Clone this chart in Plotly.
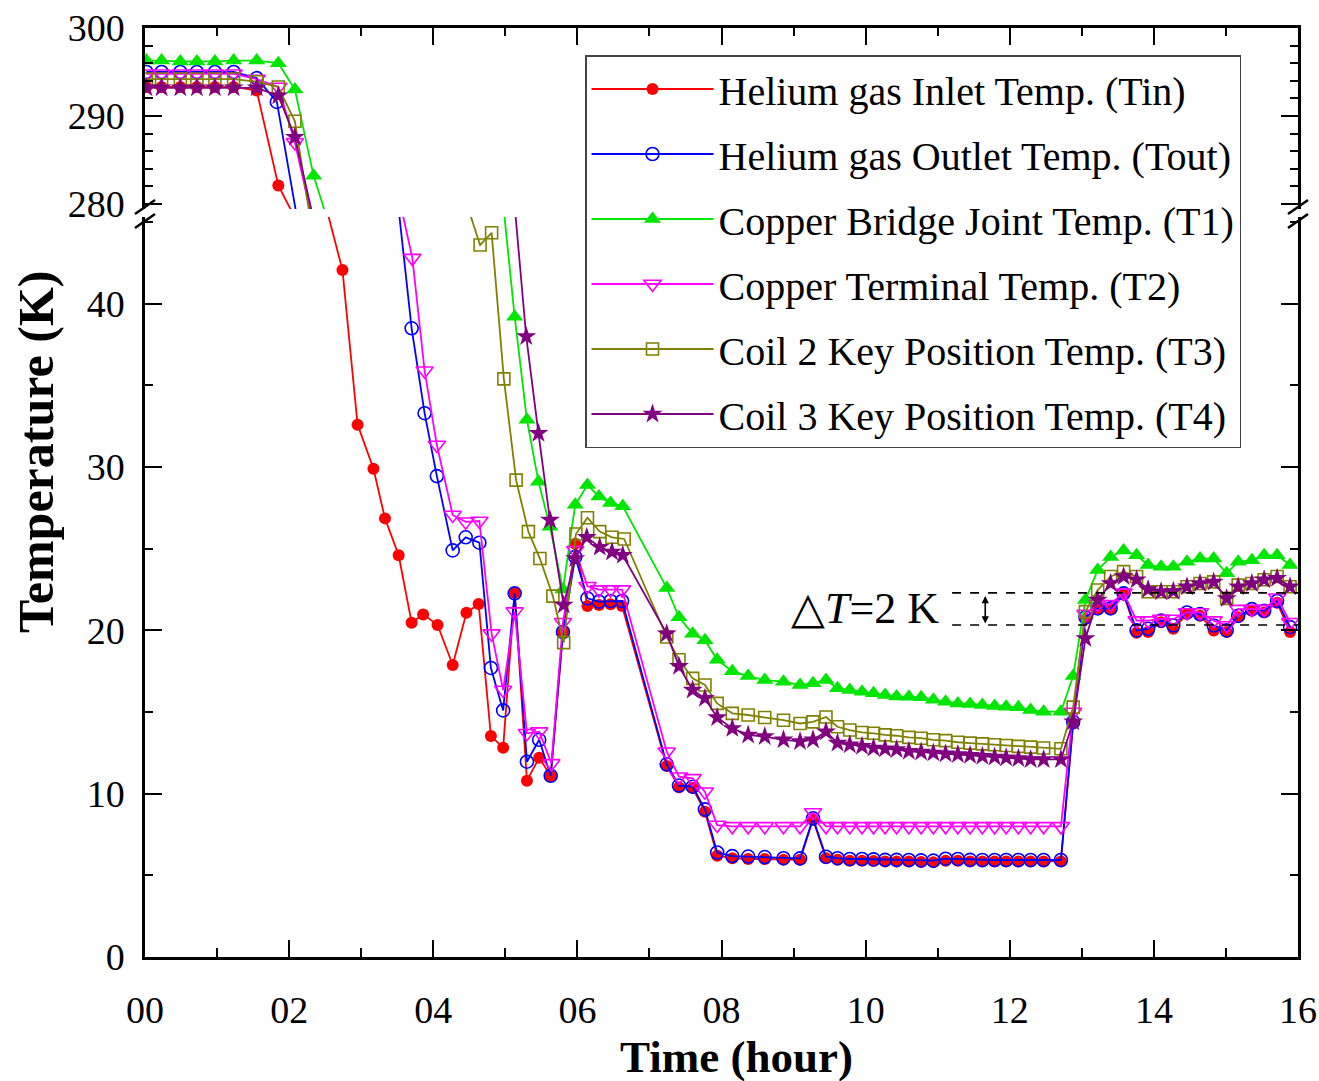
import plotly.graph_objects as go

# ---------------- data (hours, K) ----------------
time_top = [0.02, 0.23, 0.49, 0.72, 0.97, 1.23, 1.55]
time_late = [7.24, 7.41, 7.60, 7.77, 7.94, 8.15, 8.37, 8.60, 8.86, 9.09,
             9.27, 9.45, 9.61, 9.78, 9.95, 10.11, 10.27, 10.43, 10.60, 10.77,
             10.94, 11.11, 11.28, 11.45, 11.62, 11.79, 11.95, 12.12, 12.29, 12.47,
             12.71, 12.88, 13.05, 13.22, 13.40, 13.58, 13.76, 13.92, 14.10, 14.27,
             14.46, 14.64, 14.83, 15.01, 15.17, 15.36, 15.53, 15.71, 15.89]

# Helium gas inlet (Tin)
tin_top_x = [1.85, 2.14]
tin_top_y = [293.3, 293.3, 293.3, 293.3, 293.3, 293.3, 292.9, 282.1, 277.5]
tin_mid_x = [2.45, 2.74, 2.95, 3.17, 3.33, 3.52, 3.70, 3.86, 4.06, 4.27, 4.46, 4.63,
             4.80, 4.97, 5.13, 5.30, 5.47, 5.63, 5.80, 5.97, 6.14, 6.30, 6.46, 6.62]
tin_mid_y = [47, 42.07, 32.6, 29.9, 26.86, 24.6, 20.47, 20.98, 20.33, 17.88, 21.08, 21.62,
             13.53, 12.82, 22.3, 10.8, 12.2, 11.08, 19.9, 25.3, 21.5, 21.55, 21.6, 21.5]
tin_late_y = [11.7, 10.4, 10.35, 8.9, 6.2, 6.05, 6.0, 6.0, 5.95, 5.95,
              8.4, 6.05, 5.95, 5.9, 5.9, 5.88, 5.85, 5.85, 5.85, 5.82,
              5.8, 5.9, 5.9, 5.85, 5.85, 5.85, 5.85, 5.85, 5.85, 5.85,
              5.85, 14.3, 20.7, 21.3, 21.3, 22.2, 19.85, 19.9, 20.5, 20.1,
              21.0, 20.9, 20.0, 19.9, 20.8, 21.2, 21.1, 21.7, 19.9]

# Helium gas outlet (Tout)
tout_top_x = [1.83, 2.13]
tout_top_y = [295.0, 295.0, 295.0, 295.0, 295.0, 295.0, 294.3, 291.6, 277.5]
tout_mid_x = [3.49, 3.70, 3.88, 4.05, 4.27, 4.45, 4.64, 4.80, 4.97, 5.13,
              5.30, 5.47, 5.63, 5.80, 5.97, 6.14, 6.30, 6.46, 6.62]
tout_mid_y = [47, 38.5, 33.3, 29.45, 24.9, 25.7, 25.37, 17.7, 15.1, 22.27,
              11.96, 13.3, 11.1, 19.9, 24.5, 21.96, 21.76, 21.8, 21.8]
tout_late_y = [11.8, 10.5, 10.43, 9.04, 6.4, 6.18, 6.15, 6.12, 6.05, 6.04,
               8.49, 6.14, 6.05, 6.0, 6.0, 5.98, 5.95, 5.95, 5.94, 5.92,
               5.9, 6.02, 6.0, 5.95, 5.94, 5.94, 5.94, 5.94, 5.94, 5.94,
               5.94, 14.4, 20.8, 21.35, 21.35, 22.27, 20.0, 20.1, 20.6, 20.3,
               21.1, 21.0, 20.3, 20.0, 20.9, 21.3, 21.2, 21.8, 20.2]

# Copper bridge joint (T1)
t1_top_x = [1.85, 2.08, 2.34, 2.56]
t1_top_y = [296.3, 296.3, 296.2, 296.2, 296.2, 296.3, 296.3, 296.0, 293.0, 283.2, 277.5]
t1_mid_x = [4.95, 5.13, 5.30, 5.46, 5.62, 5.80, 5.97, 6.14, 6.30, 6.46, 6.63]
t1_mid_y = [47, 39.2, 32.9, 29.1, 26.35, 22.5, 27.7, 28.9, 28.2, 27.8, 27.6]
t1_late_y = [22.6, 20.8, 19.8, 19.4, 18.2, 17.5, 17.2, 16.96, 16.86, 16.66,
             16.76, 16.96, 16.45, 16.35, 16.25, 16.15, 16.05, 15.95, 15.94, 15.9,
             15.75, 15.63, 15.53, 15.5, 15.43, 15.37, 15.33, 15.3, 15.13, 15.02,
             15.02, 17.2, 21.86, 23.7, 24.5, 24.9, 24.6, 24.0, 23.9, 23.9,
             24.2, 24.4, 24.4, 23.5, 24.2, 24.3, 24.6, 24.6, 24.0]

# Copper terminal (T2)
t2_top_x = [1.85, 2.08, 2.34]
t2_top_y = [294.8, 294.8, 294.8, 294.8, 294.8, 294.8, 294.2, 293.3, 287.0, 277.5]
t2_mid_x = [3.50, 3.71, 3.88, 4.05, 4.27, 4.45, 4.64, 4.81, 4.97, 5.13,
            5.30, 5.47, 5.64, 5.80, 5.97, 6.14, 6.30, 6.46, 6.62]
t2_mid_y = [47, 42.8, 35.9, 31.35, 27.07, 26.65, 26.7, 19.8, 16.35, 21.15,
            13.7, 13.8, 11.86, 20.5, 24.9, 22.7, 22.5, 22.5, 22.5]
t2_late_y = [12.57, 11.04, 10.94, 10.12, 8.08, 8.0, 8.0, 8.0, 8.0, 8.0,
             8.85, 8.0, 8.0, 8.0, 8.0, 8.0, 8.0, 8.0, 8.0, 8.0,
             8.0, 8.0, 8.0, 8.0, 8.0, 8.0, 8.0, 8.0, 8.0, 8.0,
             8.0, 15.0, 21.0, 21.6, 21.6, 22.3, 20.6, 20.6, 20.7, 20.7,
             21.1, 21.1, 20.6, 20.3, 21.3, 21.3, 21.3, 22.0, 20.5]

# Coil 2 key position (T3)
t3_top_x = [1.85, 2.08, 2.31]
t3_top_y = [294.2, 294.2, 294.2, 294.2, 294.2, 294.2, 293.9, 293.3, 289.4, 277.5]
t3_mid_x = [4.40, 4.65, 4.81, 4.98, 5.15, 5.32, 5.48, 5.66, 5.81, 5.98, 6.14, 6.31, 6.48, 6.65]
t3_mid_y = [47, 43.6, 44.35, 35.4, 29.2, 26.05, 24.4, 22.1, 19.25, 25.9, 26.9, 26.05, 25.7, 25.6]
t3_late_y = [19.6, 18.2, 17.06, 16.66, 15.53, 14.92, 14.82, 14.67, 14.5, 14.3,
             14.4, 14.7, 14.1, 13.9, 13.75, 13.7, 13.6, 13.55, 13.45, 13.4,
             13.3, 13.25, 13.15, 13.1, 13.05, 13.0, 12.95, 12.9, 12.85, 12.8,
             12.75, 15.3, 21.15, 22.47, 23.3, 23.6, 23.3, 22.37, 22.37, 22.37,
             22.67, 22.87, 22.97, 21.96, 22.77, 22.87, 23.1, 23.3, 22.67]

# Coil 3 key position (T4)
t4_top_x = [1.85, 2.08, 2.36]
t4_top_y = [293.2, 293.2, 293.2, 293.2, 293.2, 293.2, 293.2, 292.3, 287.6, 277.5]
t4_mid_x = [5.11, 5.29, 5.46, 5.62, 5.81, 5.97, 6.13, 6.31, 6.48, 6.63]
t4_mid_y = [47, 38.0, 32.07, 26.76, 21.55, 24.4, 25.7, 25.1, 24.8, 24.6]
t4_late_y = [19.8, 17.8, 16.35, 15.84, 14.67, 14.0, 13.6, 13.5, 13.3, 13.2,
             13.3, 13.8, 13.1, 13.0, 12.9, 12.8, 12.75, 12.7, 12.6, 12.55,
             12.5, 12.45, 12.4, 12.35, 12.3, 12.25, 12.2, 12.15, 12.1, 12.1,
             12.1, 14.4, 19.5, 21.86, 22.88, 23.3, 23.1, 22.5, 22.37, 22.4,
             22.67, 22.87, 22.97, 21.96, 22.67, 22.87, 23.1, 23.2, 22.67]

x_tick_vals = [0, 2, 4, 6, 8, 10, 12, 14, 16]
x_tick_text = ["00", "02", "04", "06", "08", "10", "12", "14", "16"]
dT_upper, dT_lower, dT_x0 = 22.3, 20.33, 11.2

series = [
    ("Helium gas Inlet Temp. (Tin)", tin_top_x, tin_top_y, tin_mid_x, tin_mid_y, tin_late_y,
     "#ff0000", dict(symbol="circle", size=12, color="#ff0000")),
    ("Helium gas Outlet Temp. (Tout)", tout_top_x, tout_top_y, tout_mid_x, tout_mid_y, tout_late_y,
     "#0000ff", dict(symbol="circle-open", size=13, color="#0000ff", line=dict(width=1.6))),
    ("Copper Bridge Joint Temp. (T1)", t1_top_x, t1_top_y, t1_mid_x, t1_mid_y, t1_late_y,
     "#00e600", dict(symbol="triangle-up", size=15, color="#00e600")),
    ("Copper Terminal Temp. (T2)", t2_top_x, t2_top_y, t2_mid_x, t2_mid_y, t2_late_y,
     "#ff00ff", dict(symbol="triangle-down-open", size=15, color="#ff00ff", line=dict(width=1.6))),
    ("Coil 2 Key Position Temp. (T3)", t3_top_x, t3_top_y, t3_mid_x, t3_mid_y, t3_late_y,
     "#808000", dict(symbol="square-open", size=12, color="#808000", line=dict(width=1.6))),
    ("Coil 3 Key Position Temp. (T4)", t4_top_x, t4_top_y, t4_mid_x, t4_mid_y, t4_late_y,
     "#800080", dict(symbol="star", size=15, color="#800080")),
]

fig = go.Figure()
for i, (name, tx, ty, mx, my, ly, col, mk) in enumerate(series):
    xs = time_top + tx + mx + time_late
    ys = ty + my + ly
    for xa, ya, show in (("x", "y", True), ("x2", "y2", False)):
        fig.add_trace(go.Scatter(
            x=xs, y=ys, mode="lines+markers", name=name,
            legendgroup=f"g{i}", showlegend=show,
            line=dict(color=col, width=1.8), marker=mk,
            xaxis=xa, yaxis=ya))

W, H = 1319, 1081
L, R, T, B = 145, 21, 28, 124
PW, PH = W - L - R, H - T - B


def px(xp):
    return (xp - L) / PW


def py(yp):
    return (H - B - yp) / PH


top_lo, bot_hi = 209, 217  # pixel rows where upper/lower panels end
font_family = "Liberation Serif"
axis_common = dict(showline=True, linecolor="black", linewidth=2.5, ticks="inside",
                   tickcolor="black", tickwidth=2, showgrid=False, zeroline=False,
                   automargin=False,
                   tickfont=dict(family=font_family, size=38, color="black"))

fig.update_layout(
    template="none",
    width=W, height=H,
    margin=dict(l=L, r=R, t=T, b=B, autoexpand=False),
    paper_bgcolor="white", plot_bgcolor="white",
    xaxis=dict(range=[0, 16], tickvals=x_tick_vals, ticktext=x_tick_text, ticklen=17,
               anchor="y", ticklabelstandoff=18,
               minor=dict(dtick=1, tick0=0, ticks="inside", ticklen=9, tickwidth=2, tickcolor="black"),
               **axis_common),
    xaxis2=dict(range=[0, 16], matches="x", anchor="y2", side="top", showticklabels=False,
                tickvals=x_tick_vals, ticklen=17,
                minor=dict(dtick=1, tick0=0, ticks="inside", ticklen=8, tickwidth=2, tickcolor="black"),
                **axis_common),
    yaxis=dict(range=[0, (H - B - bot_hi) / 16.33], domain=[0, py(bot_hi)], anchor="x",
               tickvals=[0, 10, 20, 30, 40], ticklen=17, mirror="ticks", ticklabelstandoff=10,
               minor=dict(dtick=5, tick0=0, ticks="inside", ticklen=8, tickwidth=2, tickcolor="black"),
               **axis_common),
    yaxis2=dict(range=[300 - (top_lo - T) / 8.8, 300], domain=[py(top_lo), 1], anchor="x",
                tickvals=[280, 290, 300], ticklen=17, mirror="ticks", ticklabelstandoff=10,
                minor=dict(dtick=2, tick0=280, ticks="inside", ticklen=8, tickwidth=2, tickcolor="black"),
                **axis_common),
    legend=dict(x=px(585), y=py(55), xanchor="left", yanchor="top",
                bgcolor="white", bordercolor="#444", borderwidth=1.5,
                font=dict(family=font_family, size=40, color="black"),
                itemwidth=122, tracegroupgap=10, traceorder="grouped"),
    showlegend=True,
)

# axis titles
fig.add_annotation(text="<b>Temperature (K)</b>", textangle=-90, xref="paper", yref="paper",
                   x=px(36), y=py(452), xanchor="center", yanchor="middle", showarrow=False,
                   font=dict(family=font_family, size=50, color="black"))
fig.add_annotation(text="<b>Time (hour)</b>", xref="paper", yref="paper",
                   x=px(736), y=py(1057), xanchor="center", yanchor="middle", showarrow=False,
                   font=dict(family=font_family, size=45, color="black"))

# axis-break marks
for xc in (L, W - R):
    for yc in (207, 221):
        fig.add_shape(type="line", xref="paper", yref="paper",
                      x0=px(xc - 10), y0=py(yc + 7), x1=px(xc + 10), y1=py(yc - 7),
                      line=dict(color="black", width=2.5))

# delta-T annotation
for yv in (dT_upper, dT_lower):
    fig.add_shape(type="line", xref="x", yref="y", x0=dT_x0, x1=16, y0=yv, y1=yv,
                  line=dict(color="black", width=1.6, dash="dash"))
fig.add_annotation(x=11.66, y=dT_lower + 0.1, ax=11.66, ay=dT_upper - 0.1, xref="x", yref="y",
                   axref="x", ayref="y", text="", showarrow=True, arrowhead=2,
                   startarrowhead=2, arrowside="end+start", arrowsize=0.9, arrowwidth=1.6,
                   arrowcolor="black")
fig.add_annotation(text="\u25b3<i>T</i>=2 K", x=11.05, y=(dT_upper + dT_lower) / 2 + 0.05,
                   xref="x", yref="y", xanchor="right", yanchor="middle", showarrow=False,
                   font=dict(family=font_family, size=44, color="black"))

fig.write_html("out.html")
